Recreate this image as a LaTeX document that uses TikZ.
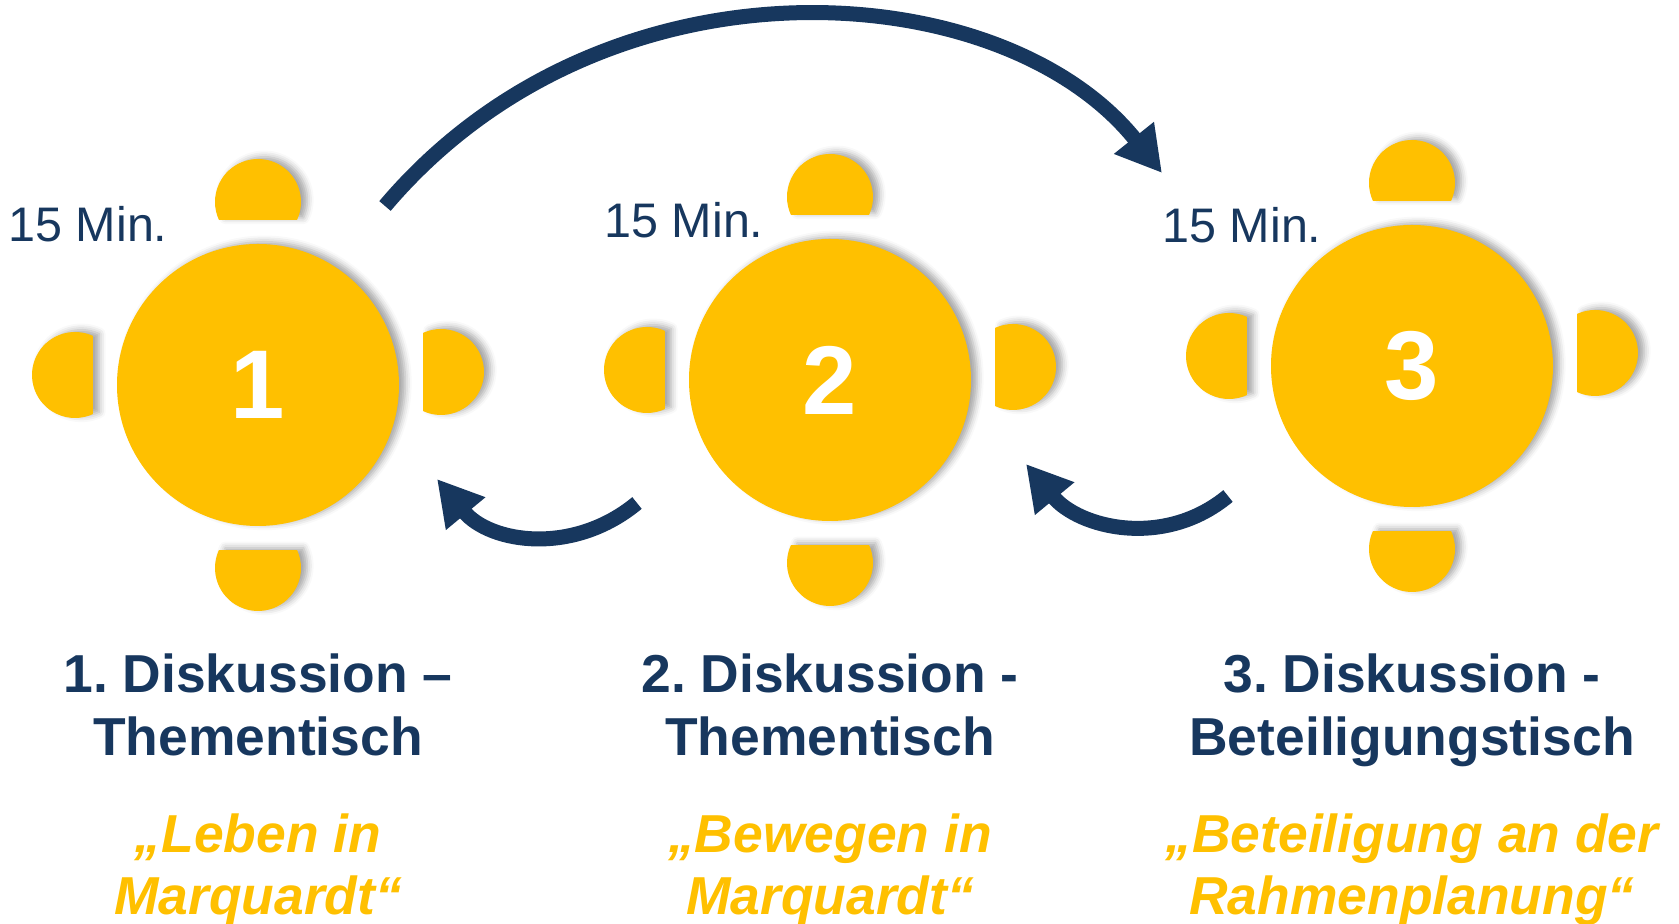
\documentclass[tikz,border=0pt]{standalone}
\usepackage{fontspec}
\setmainfont{Liberation Sans}
\usepackage{xcolor}
\usepackage{tikz}
\usetikzlibrary{arrows.meta, shadows.blur}
\frenchspacing

\definecolor{navy}{HTML}{17375E}
\definecolor{gold}{HTML}{FFC000}

% one chair at table #1, seen in direction #2, raised by #3
\newcommand{\seatat}[3]{%
  \pgfmathsetmacro{\seatA}{#2-114.7}%
  \pgfmathsetmacro{\seatB}{#2+114.7}%
  \fill[seat] ([yshift=#3cm]#1) ++(#2:1.83) ++(\seatA:0.43)
    arc[start angle=\seatA, end angle=\seatB, radius=0.43] -- cycle;
}

\begin{document}
\begin{tikzpicture}[
		soft/.style={blur shadow={shadow xshift=1.8pt, shadow yshift=0.6pt, shadow blur radius=1.8pt, shadow opacity=35}},
		roundtable/.style={circle, fill=gold, minimum size=2.82cm, inner sep=0pt, text=white, font=\fontsize{27.8pt}{30pt}\selectfont\bfseries, soft},
		seat/.style={fill=gold, soft},
		mins/.style={text=navy, anchor=base, inner sep=0pt, font=\fontsize{13.8pt}{16pt}\selectfont},
		heading/.style={text=navy, align=center, anchor=north, inner sep=0pt, font=\fontsize{15.2pt}{17.9pt}\selectfont\bfseries},
		topic/.style={text=gold, align=center, anchor=north, inner sep=0pt, font=\fontsize{15.2pt}{17.6pt}\selectfont\bfseries\itshape},
		flow/.style={draw=navy, line width=0.15cm, -{Triangle[width=0.48cm, length=0.45cm]}}
		]
		\useasboundingbox (0,0) rectangle (16.79,9.24);
		
		% Tables
		\node[roundtable] (table1) at (2.58,5.39) {1};
		\node[roundtable] (table2) at (8.30,5.44) {2};
		\node[roundtable] (table3) at (14.12,5.58) {3};
		
		% Chairs round each table
		\foreach \t in {table1,table2,table3}
			\foreach \d/\up in {90/0, 180/0.1, 0/0.13, 270/0} {\seatat{\t}{\d}{\up}}
		
		% Time per table
		\node[mins] (time1) at (0.88,6.82) {15 Min.};
		\node[mins] (time2) at (6.84,6.86) {15 Min.};
		\node[mins] (time3) at (12.42,6.81) {15 Min.};
		
		% Rotation between tables
		\coordinate (hopS) at (3.85,7.18);
		\coordinate (hopE) at (11.62,7.51);
		\coordinate (back2S) at (6.37,4.21);
		\coordinate (back2E) at (4.37,4.45);
		\coordinate (back3S) at (12.28,4.28);
		\coordinate (back3E) at (10.26,4.60);
		
		\draw[flow] (hopS) .. controls +(2.2,2.6) and +(-1.6,2.0) .. (hopE);
		\draw[flow] (back2S) .. controls +(-0.64,-0.53) and +(0.53,-0.64) .. (back2E);
		\draw[flow] (back3S) .. controls +(-0.64,-0.53) and +(0.53,-0.64) .. (back3E);
		
		% Discussion titles and topics
		\coordinate (headrow) at (0,2.71);
		\coordinate (topicrow) at (0,1.11);
		
		\node[heading] (head1) at (table1 |- headrow) {1. Diskussion –\\Thementisch};
		\node[heading] (head2) at (table2 |- headrow) {2. Diskussion -\\Thementisch};
		\node[heading] (head3) at (table3 |- headrow) {3. Diskussion -\\Beteiligungstisch};
		
		\node[topic] (topic1) at (table1 |- topicrow) {„Leben in\\Marquardt“};
		\node[topic] (topic2) at (table2 |- topicrow) {„Bewegen in\\Marquardt“};
		\node[topic] (topic3) at (table3 |- topicrow) {„Beteiligung an der\\Rahmenplanung“};
		
	\end{tikzpicture}
\end{document}
